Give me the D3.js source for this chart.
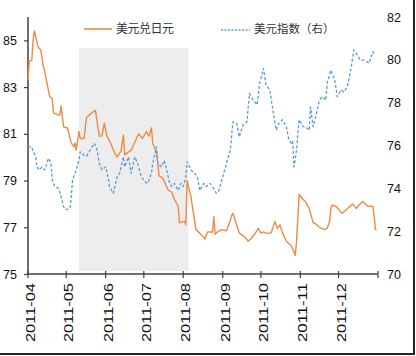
<!DOCTYPE html>
<html><head><meta charset="utf-8">
<script src="https://cdn.jsdelivr.net/npm/d3@7"></script>
<style>html,body{margin:0;padding:0;background:#fff;}svg{display:block;}</style>
</head><body>
<script>
// ---- data ----
const jpyDates = ["2011-04-01","2011-04-02","2011-04-04","2011-04-05","2011-04-06","2011-04-09","2011-04-11","2011-04-13","2011-04-14","2011-04-16","2011-04-18","2011-04-20","2011-04-21","2011-04-25","2011-04-26","2011-04-27","2011-04-29","2011-05-02","2011-05-05","2011-05-07","2011-05-08","2011-05-09","2011-05-11","2011-05-12","2011-05-15","2011-05-17","2011-05-21","2011-05-24","2011-05-27","2011-05-29","2011-05-31","2011-06-02","2011-06-04","2011-06-08","2011-06-10","2011-06-13","2011-06-15","2011-06-16","2011-06-21","2011-06-27","2011-06-30","2011-07-03","2011-07-05","2011-07-07","2011-07-08","2011-07-11","2011-07-13","2011-07-16","2011-07-20","2011-07-23","2011-07-25","2011-07-28","2011-07-29","2011-08-02","2011-08-03","2011-08-04","2011-08-07","2011-08-11","2011-08-14","2011-08-18","2011-08-20","2011-08-24","2011-08-25","2011-08-26","2011-08-28","2011-08-31","2011-09-04","2011-09-07","2011-09-08","2011-09-09","2011-09-12","2011-09-14","2011-09-18","2011-09-21","2011-09-23","2011-09-26","2011-09-29","2011-10-01","2011-10-03","2011-10-05","2011-10-09","2011-10-12","2011-10-14","2011-10-16","2011-10-18","2011-10-21","2011-10-25","2011-10-28","2011-10-29","2011-10-31","2011-11-03","2011-11-05","2011-11-08","2011-11-11","2011-11-13","2011-11-16","2011-11-20","2011-11-22","2011-11-24","2011-11-25","2011-11-26","2011-11-29","2011-12-02","2011-12-04","2011-12-07","2011-12-09","2011-12-12","2011-12-15","2011-12-17","2011-12-20","2011-12-22","2011-12-24","2011-12-28","2011-12-29","2011-12-30","2011-12-31"];
const jpyValues = [83.3,84.1,84.15,85.0,85.4,84.7,84.6,83.9,83.7,83.15,82.6,82.5,81.9,81.8,81.8,82.2,81.3,81.25,80.6,80.45,80.6,80.3,81.1,80.8,80.8,81.7,81.9,82.0,80.9,80.9,81.45,80.9,80.7,80.2,80.0,80.25,80.95,80.1,80.3,81.0,80.8,81.1,80.9,81.25,80.6,80.2,79.2,79.1,78.6,78.5,78.2,77.9,77.2,77.25,77.1,79.0,78.3,76.9,76.75,76.5,76.8,76.8,77.45,76.7,76.8,76.9,76.85,77.3,77.5,77.6,77.1,76.75,76.6,76.4,76.5,76.7,76.95,76.75,76.8,76.75,76.75,77.25,76.95,77.1,76.75,76.4,76.2,75.8,76.4,78.4,78.2,78.1,77.8,77.2,77.15,77.0,76.9,76.95,77.25,77.8,77.95,77.9,77.7,77.6,77.75,77.85,78.0,77.8,77.95,78.1,78.0,77.9,77.9,77.45,76.9,76.9];

const dxyDates = ["2011-04-01","2011-04-04","2011-04-05","2011-04-07","2011-04-08","2011-04-10","2011-04-12","2011-04-14","2011-04-15","2011-04-17","2011-04-19","2011-04-20","2011-04-22","2011-04-25","2011-04-27","2011-04-29","2011-05-01","2011-05-04","2011-05-05","2011-05-06","2011-05-08","2011-05-11","2011-05-12","2011-05-15","2011-05-17","2011-05-19","2011-05-23","2011-05-25","2011-05-27","2011-05-29","2011-06-01","2011-06-03","2011-06-04","2011-06-07","2011-06-10","2011-06-12","2011-06-15","2011-06-16","2011-06-19","2011-06-21","2011-06-24","2011-06-26","2011-06-29","2011-07-02","2011-07-04","2011-07-07","2011-07-08","2011-07-11","2011-07-12","2011-07-15","2011-07-17","2011-07-19","2011-07-21","2011-07-23","2011-07-25","2011-07-28","2011-07-30","2011-08-01","2011-08-03","2011-08-04","2011-08-07","2011-08-10","2011-08-12","2011-08-14","2011-08-17","2011-08-19","2011-08-22","2011-08-24","2011-08-27","2011-08-29","2011-09-01","2011-09-04","2011-09-07","2011-09-09","2011-09-12","2011-09-14","2011-09-17","2011-09-20","2011-09-22","2011-09-25","2011-09-28","2011-09-30","2011-10-03","2011-10-05","2011-10-08","2011-10-10","2011-10-13","2011-10-15","2011-10-18","2011-10-21","2011-10-23","2011-10-25","2011-10-26","2011-10-27","2011-10-29","2011-10-31","2011-11-03","2011-11-05","2011-11-08","2011-11-09","2011-11-11","2011-11-13","2011-11-16","2011-11-18","2011-11-21","2011-11-22","2011-11-25","2011-11-28","2011-11-30","2011-12-03","2011-12-05","2011-12-08","2011-12-11","2011-12-13","2011-12-16","2011-12-18","2011-12-21","2011-12-25","2011-12-28","2011-12-30"];
const dxyValues = [75.94,75.94,75.7,75.5,75.0,74.86,75.0,74.86,75.0,75.4,75.2,74.4,74.08,74.0,73.6,73.14,73.0,73.07,73.6,74.4,74.7,75.3,75.7,75.55,75.5,75.7,76.1,75.87,75.17,74.86,75.0,74.5,74.08,73.77,74.54,74.7,75.47,75.0,75.47,74.7,75.47,75.17,74.54,74.3,74.23,74.7,75.17,75.94,75.17,75.0,75.3,74.86,74.3,74.08,74.23,73.9,74.23,74.08,74.54,75.24,74.86,74.7,74.54,73.9,74.23,74.08,74.23,74.08,73.77,73.9,74.54,75.17,75.8,77.1,77.03,76.4,76.96,77.1,78.43,78.12,77.9,78.9,79.6,78.82,78.6,77.8,76.72,77.03,77.2,76.88,76.26,76.1,76.2,75.0,75.8,77.2,76.88,76.88,76.72,77.8,76.88,77.34,78.12,78.28,78.12,78.9,79.52,79.06,78.28,78.6,78.5,78.74,79.68,80.46,80.22,79.99,79.99,79.84,80.38,80.22];

const monthTicks = ["2011-04","2011-05","2011-06","2011-07","2011-08","2011-09","2011-10","2011-11","2011-12"];
const leftTicks = [75,77,79,81,83,85];
const rightTicks = [70,72,74,76,78,80,82];
const shadePeriod = ["2011-05-11","2011-08-05"];
const seriesNames = ["美元兑日元","美元指数（右）"];

// ---- chart ----
const W = 416, H = 356;
const X0 = 28, X1 = 378, Y0 = 274, Y1 = 17;
const parse = d3.timeParse("%Y-%m-%d");
const parseM = d3.timeParse("%Y-%m");
const svg = d3.select("body").append("svg").attr("width", W).attr("height", H);
svg.append("rect").attr("width", W).attr("height", H).attr("fill", "#fff");

const x = d3.scaleTime().domain([parse("2011-04-01"), parse("2012-01-01")]).range([X0, X1]);
const yL = d3.scaleLinear().domain([75, 86]).range([Y0, Y1]);
const yR = d3.scaleLinear().domain([70, 82]).range([Y0, Y1]);

// shaded area
svg.append("rect")
  .attr("x", x(parse(shadePeriod[0])))
  .attr("width", x(parse(shadePeriod[1])) - x(parse(shadePeriod[0])))
  .attr("y", 48).attr("height", 223)
  .attr("fill", "#ededed");

const font = "Liberation Sans, Arial, sans-serif";

// left axis
const gL = svg.append("g").attr("transform", `translate(${X0},0)`)
  .call(d3.axisLeft(yL).tickValues(leftTicks).tickSize(4).tickPadding(7));
gL.select(".domain").remove();
gL.append("line").attr("x1", 0).attr("x2", 0).attr("y1", Y1).attr("y2", Y0).attr("stroke", "#404040").attr("stroke-width", 1.5);
gL.selectAll(".tick line").attr("stroke", "#404040").attr("stroke-width", 1.2);
gL.selectAll(".tick text").attr("font-family", font).attr("font-size", 12.5).attr("fill", "#111");

// right axis (labels only)
const gR = svg.append("g").attr("transform", `translate(${X1},0)`)
  .call(d3.axisRight(yR).tickValues(rightTicks).tickSize(0).tickPadding(9));
gR.select(".domain").remove();
gR.selectAll(".tick text").attr("font-family", font).attr("font-size", 12.5).attr("fill", "#111");

// x axis
const tickDates = monthTicks.map(parseM).concat([parse("2012-01-01")]);
const gX = svg.append("g").attr("transform", `translate(0,${Y0})`);
gX.append("line").attr("x1", X0).attr("x2", X1).attr("y1", 0).attr("y2", 0).attr("stroke", "#404040").attr("stroke-width", 1.5);
gX.selectAll("line.t").data(tickDates).join("line").attr("class", "t")
  .attr("x1", d => x(d)).attr("x2", d => x(d)).attr("y1", -3).attr("y2", 4)
  .attr("stroke", "#404040").attr("stroke-width", 1.2);
gX.selectAll("text.lab").data(monthTicks).join("text").attr("class", "lab")
  .attr("transform", d => `translate(${x(parseM(d)) + 7},9) rotate(-90)`)
  .attr("text-anchor", "end")
  .attr("font-family", font).attr("font-size", 12).attr("fill", "#111")
  .attr("textLength", 59).attr("lengthAdjust", "spacingAndGlyphs")
  .text(d => d);

// lines
const jpy = jpyDates.map((d, i) => ({ d: parse(d), v: jpyValues[i] }));
const dxy = dxyDates.map((d, i) => ({ d: parse(d), v: dxyValues[i] }));
svg.append("path").datum(jpy)
  .attr("d", d3.line().x(p => x(p.d)).y(p => yL(p.v)))
  .attr("fill", "none").attr("stroke", "#ed8a45").attr("stroke-width", 1.4).attr("stroke-linejoin", "round");
svg.append("path").datum(dxy)
  .attr("d", d3.line().x(p => x(p.d)).y(p => yR(p.v)))
  .attr("fill", "none").attr("stroke", "#5b9bd5").attr("stroke-width", 1.3)
  .attr("stroke-dasharray", "3,2").attr("stroke-linejoin", "round");

// legend
const cjk = "Noto Sans CJK SC, sans-serif";
svg.append("line").attr("x1", 84).attr("x2", 112).attr("y1", 29).attr("y2", 29).attr("stroke", "#ed8a45").attr("stroke-width", 1.6);
svg.append("text").attr("x", 116).attr("y", 29).attr("dy", "0.35em").attr("font-family", cjk).attr("font-size", 12).attr("fill", "#333")
  .attr("textLength", 58).attr("lengthAdjust", "spacing").text(seriesNames[0]);
svg.append("line").attr("x1", 221).attr("x2", 250).attr("y1", 30).attr("y2", 30).attr("stroke", "#5b9bd5").attr("stroke-width", 1.4).attr("stroke-dasharray", "2,1.5");
svg.append("text").attr("x", 254).attr("y", 29).attr("dy", "0.35em").attr("font-family", cjk).attr("font-size", 11.5).attr("fill", "#333")
  .text(seriesNames[1]);

// frame (right and bottom edges)
svg.append("line").attr("x1", 414).attr("x2", 414).attr("y1", 0).attr("y2", 355).attr("stroke", "#222").attr("stroke-width", 2);
svg.append("line").attr("x1", 0).attr("x2", 415).attr("y1", 354).attr("y2", 354).attr("stroke", "#222").attr("stroke-width", 2);
</script>
</body></html>
